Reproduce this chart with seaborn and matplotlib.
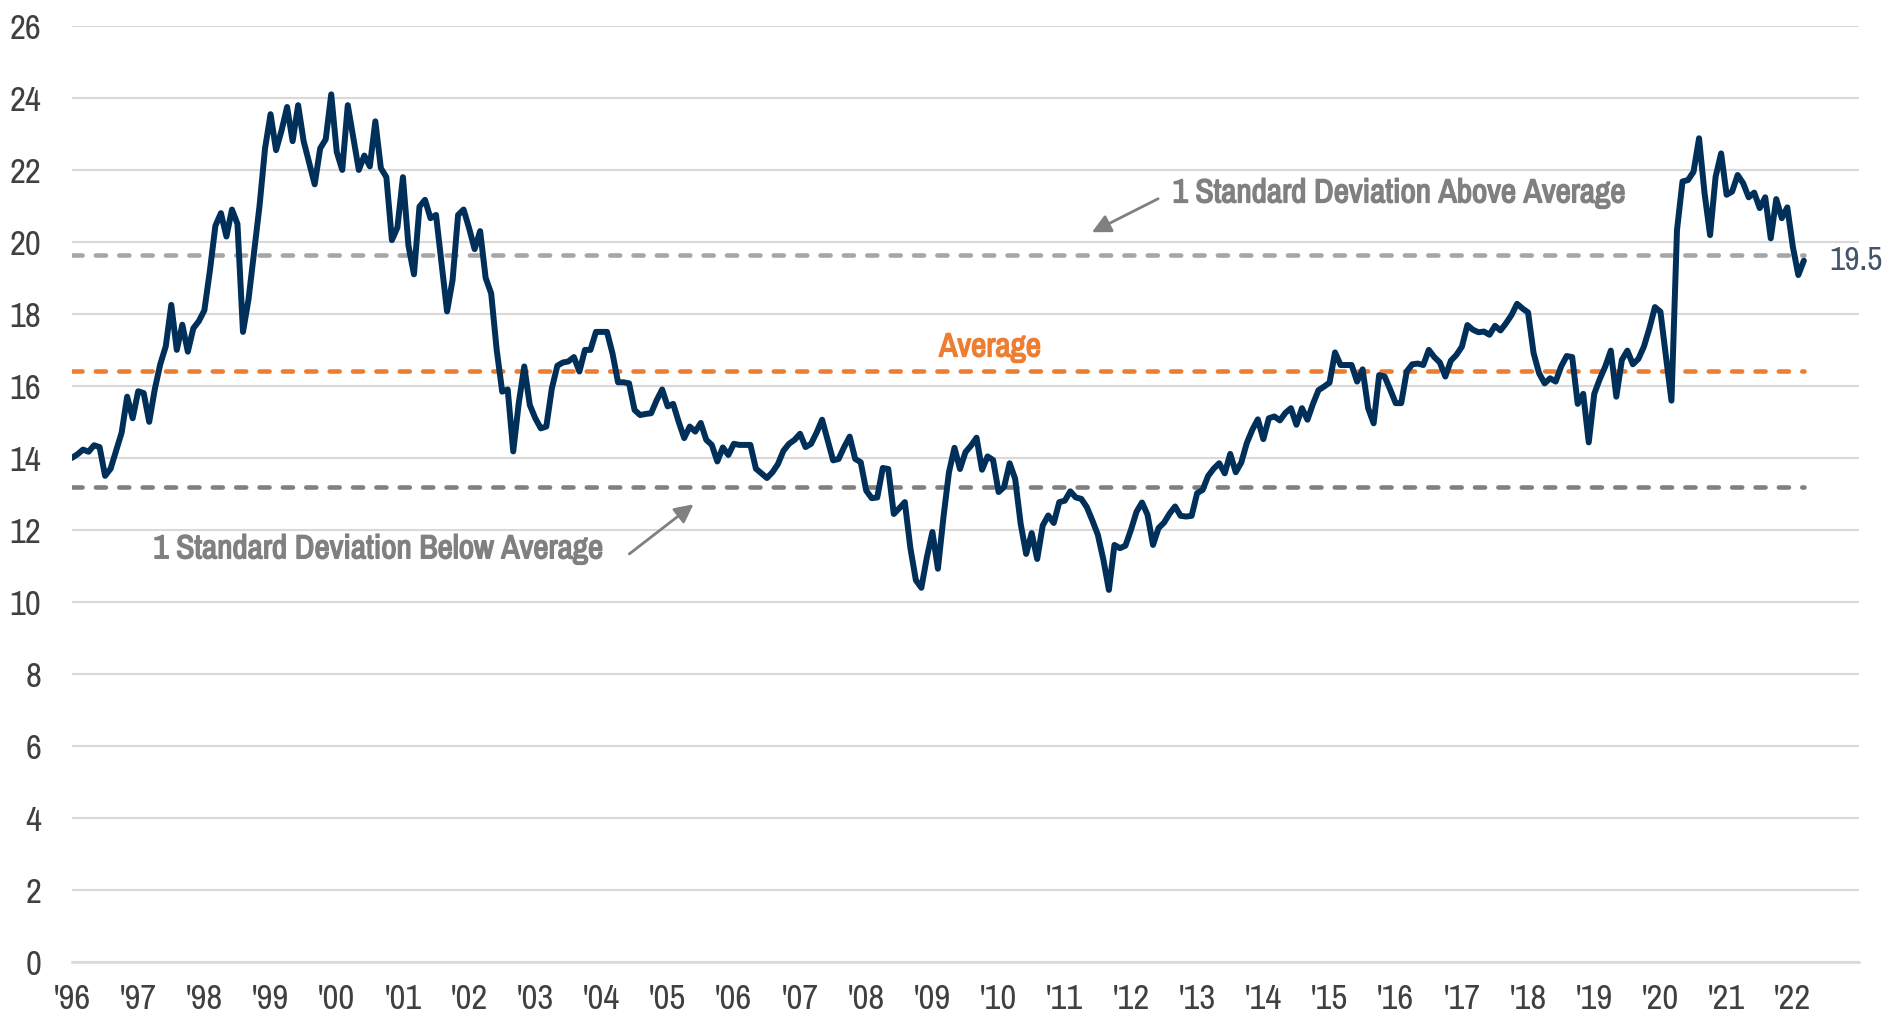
"""Forward P/E with average and +/- 1 standard deviation bands, 1996-2022."""
import matplotlib.patheffects as pe
import matplotlib.pyplot as plt
import numpy as np
import pandas as pd
import seaborn as sns

# monthly values, Jan 1996 onwards
pe_1996_2000 = [
    14.0, 14.1, 14.23, 14.17, 14.35, 14.3, 13.5, 13.7, 14.2, 14.7, 15.7, 15.1,
    15.85, 15.8, 15.0, 15.9, 16.6, 17.1, 18.25, 17.0, 17.7, 16.95, 17.6, 17.8,
    18.1, 19.2, 20.45, 20.8, 20.15, 20.9, 20.5, 17.5, 18.4, 19.7, 21.0, 22.6,
    23.55, 22.55, 23.1, 23.75, 22.8, 23.8, 22.8, 22.2, 21.6, 22.6, 22.85, 24.1,
    22.5, 22.0, 23.8, 22.9, 22.0, 22.4, 22.1, 23.35, 22.05, 21.8, 20.05, 20.4,
]
pe_2001_2005 = [
    21.8, 19.9, 19.1, 20.98, 21.17, 20.66, 20.75, 19.4, 18.07, 18.94, 20.75, 20.9,
    20.38, 19.8, 20.3, 19.0, 18.57, 17.0, 15.84, 15.9, 14.18, 15.52, 16.54, 15.47,
    15.1, 14.82, 14.87, 15.93, 16.56, 16.65, 16.68, 16.8, 16.4, 17.0, 17.0, 17.5,
    17.5, 17.5, 16.9, 16.1, 16.1, 16.07, 15.33, 15.19, 15.22, 15.24, 15.6, 15.9,
    15.43, 15.5, 15.0, 14.55, 14.87, 14.73, 14.97, 14.5, 14.36, 13.9, 14.29, 14.08,
]
pe_2006_2010 = [
    14.39, 14.36, 14.36, 14.36, 13.7, 13.57, 13.44, 13.6, 13.83, 14.2, 14.39, 14.5,
    14.67, 14.3, 14.39, 14.7, 15.06, 14.5, 13.93, 13.97, 14.3, 14.59, 13.97, 13.88,
    13.09, 12.88, 12.9, 13.72, 13.69, 12.44, 12.6, 12.77, 11.5, 10.6, 10.39, 11.24,
    11.94, 10.92, 12.35, 13.6, 14.28, 13.69, 14.16, 14.34, 14.56, 13.67, 14.04, 13.94,
    13.05, 13.19, 13.85, 13.42, 12.17, 11.33, 11.91, 11.19, 12.12, 12.4, 12.19, 12.77,
]
pe_2011_2015 = [
    12.81, 13.07, 12.9, 12.86, 12.63, 12.26, 11.86, 11.17, 10.33, 11.58, 11.49, 11.56,
    12.0, 12.5, 12.76, 12.42, 11.58, 12.05, 12.2, 12.45, 12.65, 12.39, 12.37, 12.39,
    13.02, 13.11, 13.5, 13.7, 13.85, 13.57, 14.11, 13.6, 13.87, 14.41, 14.78, 15.07,
    14.52, 15.1, 15.15, 15.04, 15.25, 15.38, 14.92, 15.38, 15.06, 15.5, 15.88, 15.98,
    16.09, 16.93, 16.58, 16.58, 16.58, 16.12, 16.46, 15.38, 14.96, 16.3, 16.26, 15.9,
]
pe_2016_2022 = [
    15.52, 15.52, 16.4, 16.6, 16.62, 16.58, 17.0, 16.8, 16.65, 16.26, 16.7, 16.86,
    17.09, 17.69, 17.56, 17.49, 17.51, 17.42, 17.67, 17.54, 17.74, 17.97, 18.28, 18.15,
    18.04, 16.91, 16.35, 16.07, 16.21, 16.12, 16.54, 16.83, 16.8, 15.5, 15.78, 14.43,
    15.78, 16.19, 16.54, 16.98, 15.7, 16.72, 16.98, 16.6, 16.75, 17.09, 17.6, 18.19,
    18.06, 16.81, 15.59, 20.33, 21.68, 21.72, 21.95, 22.88, 21.35, 20.19, 21.81, 22.46,
    21.31, 21.4, 21.86, 21.63, 21.24, 21.37, 20.94, 21.24, 20.1, 21.19, 20.66, 20.96,
    19.87, 19.08, 19.48,
]

average = 16.41
sd_above = 19.63
sd_below = 13.19
latest_label = "19.5"

year_ticks = list(range(1996, 2024))
year_labels = [f"'{y % 100:02d}" for y in range(1996, 2023)] + [""]
y_ticks = list(range(0, 27, 2))

NAVY = "#002F5A"
ORANGE = "#ED7D31"
LIGHT_GRAY = "#A6A6A6"
DARK_GRAY = "#808080"
GRID = "#D9D9D9"
TEXT = "#404040"

values = pe_1996_2000 + pe_2001_2005 + pe_2006_2010 + pe_2011_2015 + pe_2016_2022
df = pd.DataFrame({"t": 1996 + np.arange(len(values)) / 12, "pe": values})
t_end = df["t"].iloc[-1]

sns.set_theme(style="white")
plt.rcParams["font.family"] = ["Archivo Narrow", "Roboto Condensed", "Liberation Sans", "DejaVu Sans"]

fig = plt.figure(figsize=(18.83, 10.13), dpi=100)
ax = fig.add_axes([72 / 1883, 51.3 / 1013, (1859 - 72) / 1883, (987 - 51.3) / 1013])

ax.set_ylim(0, 26)
ax.set_xlim(1996, 2023)
ax.set_yticks(y_ticks)
ax.yaxis.grid(True, color=GRID, lw=1.5)
ax.set_axisbelow(True)
for side in ["top", "right", "left"]:
    ax.spines[side].set_visible(False)
ax.spines["bottom"].set_color(GRID)
ax.spines["bottom"].set_linewidth(1.8)

dash = dict(lw=3.3, dashes=(2.2, 2.9), dash_capstyle="round", zorder=2)
ax.plot([1996, t_end], [sd_above, sd_above], color=LIGHT_GRAY, **dash)
ax.plot([1996, t_end], [average, average], color=ORANGE, **dash)
ax.plot([1996, t_end], [sd_below, sd_below], color=DARK_GRAY, **dash)

sns.lineplot(data=df, x="t", y="pe", ax=ax, color=NAVY, lw=4.3, zorder=3)
ax.set_xlabel("")
ax.set_ylabel("")

ax.set_xticks(year_ticks)
ax.set_xticklabels(year_labels)
ax.tick_params(axis="x", direction="out", length=8, width=1.5, color=GRID,
               labelsize=25, labelcolor=TEXT, pad=7)
ax.tick_params(axis="y", length=0, labelsize=25, labelcolor=TEXT, pad=22)

ax.text(t_end + 0.38, df["pe"].iloc[-1], latest_label, fontsize=24, color="#44546A",
        ha="left", va="center")


def bold_label(x, y, s, color, ha):
    # the narrow face has no bold weight here, so thicken it with a stroke
    ax.text(x, y, s, fontsize=24, color=color, ha=ha, va="center",
            path_effects=[pe.withStroke(linewidth=1.1, foreground=color)])


bold_label(2009.87, 17.07, "Average", ORANGE, "center")
bold_label(2012.63, 21.35, "1 Standard Deviation Above Average", DARK_GRAY, "left")
bold_label(1997.23, 11.46, "1 Standard Deviation Below Average", DARK_GRAY, "left")

arrow = dict(arrowstyle="-|>", color=DARK_GRAY, lw=2, mutation_scale=28, shrinkA=0, shrinkB=0)
ax.annotate("", xy=(2011.41, 20.27), xytext=(2012.41, 21.2), arrowprops=arrow)
ax.annotate("", xy=(2005.39, 12.71), xytext=(2004.42, 11.33), arrowprops=arrow)

fig.savefig("out.png", dpi=100)
plt.close(fig)
